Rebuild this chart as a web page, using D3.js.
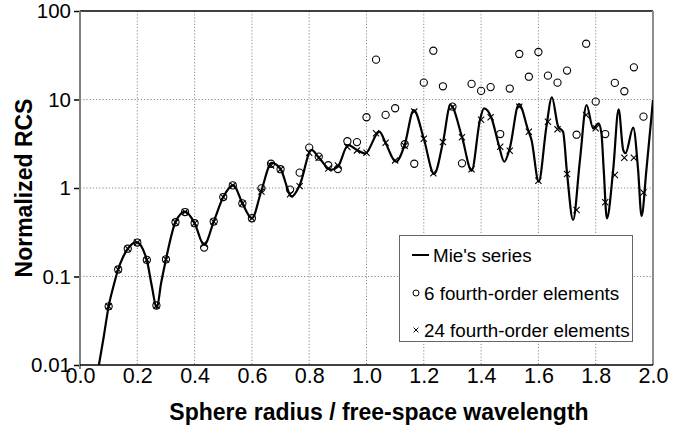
<!DOCTYPE html>
<html>
<head>
<meta charset="utf-8">
<script src="https://cdn.jsdelivr.net/npm/d3@7/dist/d3.min.js"></script>
<style>
  html, body { margin: 0; padding: 0; background: #fff; }
  svg { display: block; font-family: "Liberation Sans", Arial, sans-serif; }
</style>
</head>
<body>
<svg id="chart" width="692" height="432"></svg>
<script>
// Backscatter of a conducting sphere: exact Mie series vs. two element meshes.

// Mie's series (radius/wavelength, normalized RCS)
const mieX = [0.066, 0.083, 0.1, 0.117, 0.133, 0.15, 0.167, 0.197, 0.233, 0.25, 0.268, 0.283, 0.3, 0.333,
  0.367, 0.4, 0.433, 0.467, 0.5, 0.535, 0.567, 0.6, 0.633, 0.669, 0.7, 0.739, 0.767, 0.808, 0.833,
  0.876, 0.9, 0.936, 0.967, 0.995, 1.045, 1.067, 1.103, 1.133, 1.165, 1.2, 1.236, 1.267, 1.293,
  1.333, 1.367, 1.396, 1.41, 1.437, 1.46, 1.481, 1.5, 1.532, 1.564, 1.576, 1.601, 1.628, 1.647,
  1.669, 1.686, 1.7, 1.721, 1.745, 1.768, 1.791, 1.81, 1.82, 1.828, 1.839, 1.861, 1.88, 1.896,
  1.904, 1.931, 1.948, 1.96, 1.977, 2.0];
const mieRCS = [0.01, 0.021, 0.046, 0.078, 0.12, 0.165, 0.206, 0.245, 0.154, 0.08, 0.044, 0.084, 0.156, 0.41,
  0.54, 0.40, 0.227, 0.42, 0.79, 1.08, 0.67, 0.454, 0.93, 1.92, 1.64, 0.80, 1.08, 2.69, 2.22,
  1.6, 1.74, 3.06, 2.69, 2.45, 4.33, 3.2, 1.98, 3.06, 7.6, 3.6, 1.44, 3.3, 8.67,
  3.8, 1.57, 5.87, 7.95, 6.1, 3.2, 1.98, 2.81, 8.9, 4.52, 3.49, 1.18, 4.93, 10.6,
  4.93, 4.33, 1.47, 0.435, 2.07, 8.67, 4.73, 5.38, 4.15, 1.6, 0.454, 1.6, 7.75, 2.69,
  2.47, 4.8, 1.6, 0.483, 1.6, 9.87];

// Sample radii of the two element solutions (0.1 to 1.967 in steps of 1/30)
const sampleX = [0.1, 0.1333, 0.1667, 0.2, 0.2333, 0.2667, 0.3, 0.3333, 0.3667, 0.4, 0.4333, 0.4667,
  0.5, 0.5333, 0.5667, 0.6, 0.6333, 0.6667, 0.7, 0.7333, 0.7667, 0.8, 0.8333, 0.8667, 0.9, 0.9333,
  0.9667, 1.0, 1.0333, 1.0667, 1.1, 1.1333, 1.1667, 1.2, 1.2333, 1.2667, 1.3, 1.3333, 1.3667, 1.4,
  1.4333, 1.4667, 1.5, 1.5333, 1.5667, 1.6, 1.6333, 1.6667, 1.7, 1.7333, 1.7667, 1.8, 1.8333,
  1.8667, 1.9, 1.9333, 1.9667];
// 6 fourth-order elements
const sixElements = [0.046, 0.12, 0.206, 0.242, 0.154, 0.047, 0.156, 0.41, 0.535, 0.40, 0.212, 0.417,
  0.79, 1.07, 0.67, 0.455, 0.99, 1.88, 1.63, 0.96, 1.49, 2.86, 2.26, 1.81, 1.64, 3.38,
  3.3, 6.3, 28.2, 6.7, 7.96, 3.12, 1.88, 15.5, 35.6, 14.1, 8.3, 1.9, 15.0, 12.5,
  13.8, 4.07, 13.3, 32.7, 18.1, 34.4, 18.6, 15.5, 21.2, 4.0, 42.7, 9.45, 4.07,
  15.4, 12.4, 23.1, 6.4];
// 24 fourth-order elements
const twentyFourElements = [0.046, 0.12, 0.206, 0.242, 0.154, 0.047, 0.156, 0.41, 0.535, 0.40, 0.235, 0.417,
  0.79, 1.07, 0.67, 0.455, 0.91, 1.8, 1.63, 0.85, 1.05, 2.5, 2.2, 1.66, 1.8, 2.9,
  2.66, 2.5, 4.15, 3.25, 2.05, 3.0, 7.3, 3.6, 1.47, 3.3, 8.2, 3.74, 1.63, 5.9,
  6.3, 2.93, 2.64, 8.3, 4.33, 1.21, 5.6, 4.6, 1.44, 0.564, 6.68, 4.73, 0.69,
  1.40, 2.2, 2.2, 0.89];

const xTicks = [0, 0.2, 0.4, 0.6, 0.8, 1.0, 1.2, 1.4, 1.6, 1.8, 2.0];
const yTicks = [0.01, 0.1, 1, 10, 100];
const yTickLabels = ["0.01", "0.1", "1", "10", "100"];
const legendLabels = ["Mie's series", "6 fourth-order elements", "24 fourth-order elements"];
const xTitle = "Sphere radius / free-space wavelength";
const yTitle = "Normalized RCS";

const svg = d3.select("#chart");
const L = 80, R = 653, T = 11, B = 365;
const x = d3.scaleLinear().domain([0, 2]).range([L, R]);
const y = d3.scaleLog().domain([0.01, 100]).range([B, T]);

// dotted grid
const grid = svg.append("g").attr("stroke", "#8a8a8a").attr("stroke-width", 1)
  .attr("stroke-dasharray", "1.2,2");
grid.selectAll("line.v").data(xTicks.filter(d => d > 0 && d < 2)).join("line")
  .attr("x1", d => x(d)).attr("x2", d => x(d)).attr("y1", T).attr("y2", B);
grid.selectAll("line.h").data(yTicks.filter(d => d > 0.01 && d < 100)).join("line")
  .attr("x1", L).attr("x2", R).attr("y1", d => y(d)).attr("y2", d => y(d));

// frame: top black, right grey
svg.append("line").attr("x1", L).attr("x2", R).attr("y1", T).attr("y2", T)
  .attr("stroke", "#000").attr("stroke-width", 1.5);
svg.append("line").attr("x1", R).attr("x2", R).attr("y1", T).attr("y2", B)
  .attr("stroke", "#8c8c8c").attr("stroke-width", 2);

// y axis
const yAxis = svg.append("g").attr("transform", `translate(${L},0)`)
  .call(d3.axisLeft(y).tickValues(yTicks).tickFormat((d, i) => yTickLabels[i]).tickSize(6).tickPadding(3));
yAxis.select(".domain").remove();
yAxis.selectAll(".tick line").attr("stroke", "#000").attr("stroke-width", 1.5);
yAxis.selectAll("text").attr("font-size", 20.5).attr("fill", "#000")
  .attr("font-family", "'Liberation Sans', Arial, sans-serif");
svg.append("line").attr("x1", L).attr("x2", L).attr("y1", T).attr("y2", B + 4)
  .attr("stroke", "#808080").attr("stroke-width", 2);

// x axis
const xAxis = svg.append("g").attr("transform", `translate(0,${B})`)
  .call(d3.axisBottom(x).tickValues(xTicks).tickFormat(d3.format(".1f")).tickSize(0).tickPadding(3));
xAxis.select(".domain").attr("stroke", "#000").attr("stroke-width", 1.5).attr("d", `M${L},0H${R}`);
xAxis.selectAll("text").attr("font-size", 21.5).attr("fill", "#000")
  .attr("font-family", "'Liberation Sans', Arial, sans-serif");

// axis titles
svg.append("text").attr("x", 379).attr("y", 420).attr("text-anchor", "middle")
  .attr("font-size", 23).attr("font-weight", "bold").text(xTitle);
svg.append("text").attr("transform", "translate(32,188) rotate(-90)").attr("text-anchor", "middle")
  .attr("font-size", 23).attr("font-weight", "bold").text(yTitle);

// clip to plot area
svg.append("clipPath").attr("id", "plotClip").append("rect")
  .attr("x", L).attr("y", T).attr("width", R - L).attr("height", B - T);
const plot = svg.append("g").attr("clip-path", "url(#plotClip)");

// Mie curve
const mie = mieX.map((d, i) => [d, mieRCS[i]]);
plot.append("path").datum(mie)
  .attr("fill", "none").attr("stroke", "#000").attr("stroke-width", 2.2)
  .attr("stroke-linejoin", "round")
  .attr("d", d3.line().x(d => x(d[0])).y(d => y(d[1])).curve(d3.curveMonotoneX));

// 6 elements: open circles
plot.append("g").selectAll("circle").data(sampleX.map((d, i) => [d, sixElements[i]])).join("circle")
  .attr("cx", d => x(d[0])).attr("cy", d => y(d[1])).attr("r", 3.6)
  .attr("fill", "none").attr("stroke", "#000").attr("stroke-width", 1.1);

// 24 elements: crosses
const cross = (s) => `M${-s},${-s}L${s},${s}M${-s},${s}L${s},${-s}`;
plot.append("g").selectAll("path").data(sampleX.map((d, i) => [d, twentyFourElements[i]])).join("path")
  .attr("transform", d => `translate(${x(d[0])},${y(d[1])})`)
  .attr("d", cross(3.1)).attr("fill", "none").attr("stroke", "#000").attr("stroke-width", 1.1);

// legend
const lg = svg.append("g");
lg.append("rect").attr("x", 399.5).attr("y", 235.5).attr("width", 233).attr("height", 106)
  .attr("fill", "#fff").attr("stroke", "#666").attr("stroke-width", 1);
lg.append("line").attr("x1", 412).attr("x2", 429).attr("y1", 255).attr("y2", 255)
  .attr("stroke", "#000").attr("stroke-width", 2);
lg.append("circle").attr("cx", 416).attr("cy", 293).attr("r", 3).attr("fill", "none")
  .attr("stroke", "#000").attr("stroke-width", 1);
lg.append("path").attr("transform", "translate(416,330)").attr("d", cross(2.4))
  .attr("stroke", "#000").attr("stroke-width", 1);
const legendX = [433, 424, 424];
const legendY = [255, 293, 330];
lg.selectAll("text").data(legendLabels).join("text")
  .attr("x", (d, i) => legendX[i]).attr("y", (d, i) => legendY[i]).attr("dy", "0.35em")
  .attr("font-size", 18.8).attr("fill", "#000").text(d => d);
</script>
</body>
</html>
